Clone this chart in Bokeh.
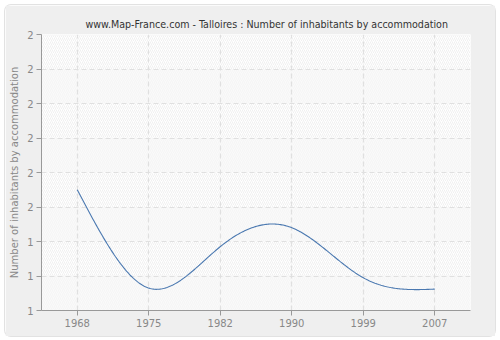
import numpy as np
from bokeh.plotting import figure
from bokeh.models import FixedTicker
from bokeh.embed import file_html
from bokeh.resources import INLINE

years = ["1968", "1975", "1982", "1990", "1999", "2007"]
values = [1.55, 1.265, 1.385, 1.44, 1.295, 1.262]
y_ticks = [1.2, 1.3, 1.4, 1.5, 1.6, 1.7, 1.8, 1.9, 2.0]
y_tick_labels = ["1", "1", "1", "2", "2", "2", "2", "2", "2"]

FONT = "DejaVu Sans"
TITLE_FONT = "DejaVu Sans Condensed"

# natural cubic spline through the data points (index space), for a smooth line
def natural_spline(xk, yk, xs):
    xk = np.asarray(xk, float); yk = np.asarray(yk, float)
    n = len(xk)
    h = np.diff(xk)
    A = np.zeros((n, n)); b = np.zeros(n)
    A[0, 0] = 1; A[-1, -1] = 1
    for i in range(1, n - 1):
        A[i, i - 1] = h[i - 1]
        A[i, i] = 2 * (h[i - 1] + h[i])
        A[i, i + 1] = h[i]
        b[i] = 6 * ((yk[i + 1] - yk[i]) / h[i] - (yk[i] - yk[i - 1]) / h[i - 1])
    M = np.linalg.solve(A, b)
    out = []
    for x in xs:
        i = min(max(np.searchsorted(xk, x) - 1, 0), n - 2)
        t1 = xk[i + 1] - x; t0 = x - xk[i]
        v = (M[i] * t1 ** 3 + M[i + 1] * t0 ** 3) / (6 * h[i]) \
            + (yk[i] / h[i] - M[i] * h[i] / 6) * t1 \
            + (yk[i + 1] / h[i] - M[i + 1] * h[i] / 6) * t0
        out.append(v)
    return np.array(out)

idx = list(range(len(years)))
xs = np.linspace(0, len(years) - 1, 300)
ys = natural_spline(idx, values, xs)

p = figure(width=490, height=331, output_backend="svg", toolbar_location=None,
           x_range=(-0.5, len(years) - 0.5), y_range=(y_ticks[0], y_ticks[-1]),
           min_border_left=36, min_border_right=25, min_border_top=29, min_border_bottom=26,
           title="www.Map-France.com - Talloires : Number of inhabitants by accommodation")
p.styles = {"margin-left": "5px", "margin-top": "5px", "border-radius": "6px",
            "box-shadow": "0 0 0 1px #e2e2e2"}
p.border_fill_color = "#efefef"
p.background_fill_color = "white"
p.outline_line_color = None

p.title.text_font = TITLE_FONT
p.title.text_font_size = "10.6px"
p.title.text_font_style = "normal"
p.title.text_color = "#333333"
p.title.align = "left"
p.title.offset = 44

# alternating hatched bands
bot = y_ticks[:-1]; top = y_ticks[1:]
hb = [b for i, b in enumerate(bot) if i % 2 == 1]
ht = [t for i, t in enumerate(top) if i % 2 == 1]
pb = [b for i, b in enumerate(bot) if i % 2 == 0]
pt = [t for i, t in enumerate(top) if i % 2 == 0]
p.quad(left=-0.5, right=len(years) - 0.5, bottom=pb, top=pt, fill_color="#fafafa",
       line_color=None, hatch_pattern="/", hatch_color="#f5f5f5", hatch_scale=4,
       hatch_weight=1, level="image")
p.quad(left=-0.5, right=len(years) - 0.5, bottom=hb, top=ht, fill_color="#ffffff",
       line_color=None, hatch_pattern="/", hatch_color="#f0f0f0", hatch_scale=4,
       hatch_weight=1, level="image")

p.line(xs, ys, line_color="#4a78b0", line_width=1.1)

p.xaxis.ticker = FixedTicker(ticks=idx)
p.xaxis.major_label_overrides = {i: y for i, y in enumerate(years)}
p.yaxis.ticker = FixedTicker(ticks=y_ticks)
p.yaxis.major_label_overrides = {t: l for t, l in zip(y_ticks, y_tick_labels)}
p.yaxis.axis_label = "Number of inhabitants by accommodation"

for ax in (p.xaxis[0], p.yaxis[0]):
    ax.axis_line_color = "#999999"
    ax.major_tick_line_color = "#999999"
    ax.major_tick_out = 5
    ax.major_tick_in = 0
    ax.minor_tick_line_color = None
    ax.major_label_text_font = FONT
    ax.major_label_text_font_size = "10px"
    ax.major_label_text_color = "#888888"
    ax.axis_label_text_font = FONT
    ax.axis_label_text_font_size = "10px"
    ax.axis_label_text_font_style = "normal"
    ax.axis_label_text_color = "#888888"
    ax.major_label_standoff = 3
p.yaxis.axis_label_standoff = 4

p.grid.grid_line_color = "#e0e0e0"
p.grid.grid_line_dash = "5 3"
p.grid.grid_line_width = 1.2
p.grid.level = "underlay"
p.xgrid.ticker = FixedTicker(ticks=idx)
p.ygrid.ticker = FixedTicker(ticks=y_ticks)

open("out.html", "w").write(file_html(p, INLINE))
